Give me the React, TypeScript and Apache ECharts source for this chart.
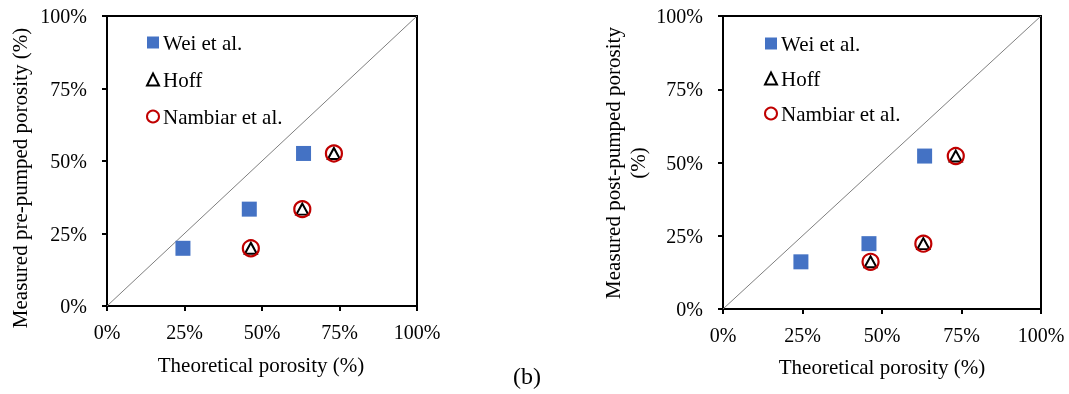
import React, { useEffect, useRef } from "react";
import * as echarts from "echarts";

const tickValues = [0, 25, 50, 75, 100];
const weiX = [24.5, 45.9, 63.4];
const litX = [46.4, 63.0, 73.2];
const weiPreY = [19.9, 33.4, 52.6];
const hoffPreY = [19.9, 33.4, 52.6];
const nambiarPreY = [19.9, 33.4, 52.6];
const weiPostY = [16.1, 22.3, 52.2];
const hoffPostY = [16.1, 22.3, 52.2];
const nambiarPostY = [16.1, 22.3, 52.2];
const seriesNames = ["Wei et al.", "Hoff", "Nambiar et al."];

const FONT = "Liberation Serif, Times New Roman, serif";

function pairs(xs: number[], ys: number[]) {
  return xs.map((x, i) => [x, ys[i]]);
}

export default function App() {
  const ref = useRef<HTMLDivElement>(null);
  useEffect(() => {
    if (!ref.current) return;
    const chart = echarts.init(ref.current, undefined, { renderer: "svg" });
    const axisCommon = (gridIndex: number, margin: number) => ({
      type: "value",
      gridIndex,
      min: 0,
      max: 100,
      interval: 25,
      splitLine: { show: false },
      axisLine: { show: true, lineStyle: { color: "#000", width: 2 } },
      axisTick: { show: true, inside: false, length: 5, lineStyle: { color: "#000", width: 2 } },
      axisLabel: {
        formatter: (v: number) => (tickValues.includes(v) ? `${v}%` : ""),
        color: "#000",
        fontFamily: FONT,
        fontSize: 20,
        margin,
      },
    });
    const mk = (gi: number, ys: [number[], number[], number[]]) => [
      {
        name: seriesNames[0],
        type: "scatter",
        xAxisIndex: gi,
        yAxisIndex: gi,
        symbol: "rect",
        symbolSize: 15,
        itemStyle: { color: "#4472C4", opacity: 1 },
        data: pairs(weiX, ys[0]),
        z: 3,
      },
      {
        name: seriesNames[1],
        type: "scatter",
        xAxisIndex: gi,
        yAxisIndex: gi,
        symbol: "triangle",
        symbolSize: [12, 11],
        itemStyle: { color: "rgba(255,255,255,0)", borderColor: "#000", borderWidth: 2, opacity: 1 },
        data: pairs(litX, ys[1]),
        z: 4,
      },
      {
        name: seriesNames[2],
        type: "scatter",
        xAxisIndex: gi,
        yAxisIndex: gi,
        symbol: "circle",
        symbolSize: 16,
        itemStyle: { color: "rgba(255,255,255,0)", borderColor: "#C00000", borderWidth: 2.2, opacity: 1 },
        data: pairs(litX, ys[2]),
        z: 5,
      },
      {
        type: "line",
        xAxisIndex: gi,
        yAxisIndex: gi,
        symbol: "none",
        silent: true,
        lineStyle: { color: "#7f7f7f", width: 1 },
        data: [
          [0, 0],
          [100, 100],
        ],
        z: 2,
      },
    ];
    const legendCommon = {
      orient: "vertical",
      data: seriesNames,
      itemWidth: 12,
      itemHeight: 12,
      textStyle: { color: "#000", fontFamily: FONT, fontSize: 21, padding: [0, 0, 0, -1] },
      selectedMode: false,
    };
    chart.setOption({
      animation: false,
      grid: [
        { left: 107, top: 16, width: 310, height: 290, show: true, borderColor: "#000", borderWidth: 2 },
        { left: 723, top: 16, width: 318, height: 293, show: true, borderColor: "#000", borderWidth: 2 },
      ],
      xAxis: [axisCommon(0, 16), axisCommon(1, 16)],
      yAxis: [axisCommon(0, 20), axisCommon(1, 20)],
      legend: [
        { ...legendCommon, itemGap: 16, left: 141, top: 27 },
        { ...legendCommon, itemGap: 14, left: 759, top: 28 },
      ],
      series: [
        ...mk(0, [weiPreY, hoffPreY, nambiarPreY]),
        ...mk(1, [weiPostY, hoffPostY, nambiarPostY]),
      ],
      graphic: [
        {
          type: "text",
          x: 261,
          y: 365,
          style: { text: "Theoretical porosity (%)", font: `21px ${FONT}`, fill: "#000", textAlign: "center", textVerticalAlign: "middle" },
        },
        {
          type: "text",
          x: 882,
          y: 367,
          style: { text: "Theoretical porosity (%)", font: `21px ${FONT}`, fill: "#000", textAlign: "center", textVerticalAlign: "middle" },
        },
        {
          type: "text",
          x: 20,
          y: 178,
          rotation: Math.PI / 2,
          style: { text: "Measured pre-pumped porosity (%)", font: `21px ${FONT}`, fill: "#000", textAlign: "center", textVerticalAlign: "middle" },
        },
        {
          type: "text",
          x: 625,
          y: 163,
          rotation: Math.PI / 2,
          style: { text: "Measured post-pumped porosity\n(%)", font: `21px ${FONT}`, lineHeight: 25, fill: "#000", textAlign: "center", textVerticalAlign: "middle" },
        },
        {
          type: "text",
          x: 527,
          y: 376,
          style: { text: "(b)", font: `24px ${FONT}`, fill: "#000", textAlign: "center", textVerticalAlign: "middle" },
        },
      ],
    });
    return () => chart.dispose();
  }, []);
  return <div ref={ref} style={{ position: "fixed", left: 0, top: 0, width: 1069, height: 394 }} />;
}
